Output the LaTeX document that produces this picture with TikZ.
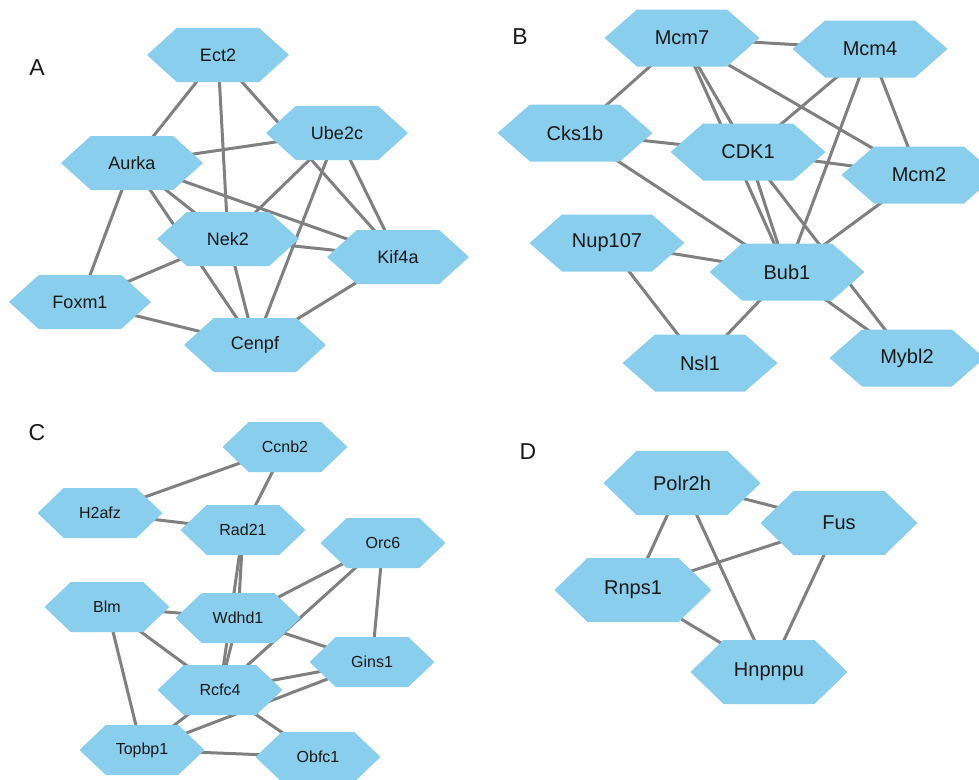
\documentclass[tikz,border=0pt]{standalone}
\usepackage{fontspec}
\setmainfont{Liberation Sans}
\usetikzlibrary{calc,backgrounds}

\definecolor{genefill}{RGB}{138,206,238}
\definecolor{genetext}{RGB}{25,25,25}
\definecolor{linkgray}{RGB}{128,128,128}

\tikzset{
  hexgene/.style={inner sep=0pt, text=genetext,
    path picture={
      \fill[genefill] (path picture bounding box.west)
        -- ($(path picture bounding box.north west)!0.21!(path picture bounding box.north east)$)
        -- ($(path picture bounding box.north west)!0.79!(path picture bounding box.north east)$)
        -- (path picture bounding box.east)
        -- ($(path picture bounding box.south west)!0.79!(path picture bounding box.south east)$)
        -- ($(path picture bounding box.south west)!0.21!(path picture bounding box.south east)$)
        -- cycle;}},
  geneA/.style={hexgene, minimum width=142pt, minimum height=54pt, font=\fontsize{18}{20}\selectfont},
  geneB/.style={hexgene, minimum width=155pt, minimum height=57pt, font=\fontsize{20}{22}\selectfont},
  geneC/.style={hexgene, minimum width=125pt, minimum height=50pt, font=\fontsize{16}{18}\selectfont},
  geneD/.style={hexgene, minimum width=157pt, minimum height=64pt, font=\fontsize{20}{22}\selectfont},
  panel/.style={text=genetext, font=\fontsize{23}{25}\selectfont},
  link/.style={draw=linkgray, line width=3pt}
}

\begin{document}
\begin{tikzpicture}[x=1pt,y=-1pt]

      \useasboundingbox (0,0) rectangle (979,779);

      % panel A
      \node[panel] (labA) at (37,68) {A};
      \node[geneA] (ect2) at (218,55) {Ect2};
      \node[geneA] (ube2c) at (337,133) {Ube2c};
      \node[geneA] (aurka) at (132,163) {Aurka};
      \node[geneA] (nek2) at (228,239) {Nek2};
      \node[geneA] (kif4a) at (398,257) {Kif4a};
      \node[geneA] (foxm1) at (80,302) {Foxm1};
      \node[geneA] (cenpf) at (255,345) {Cenpf};

      % panel B
      \node[panel] (labB) at (520,37) {B};
      \node[geneB] (mcm7) at (682,38) {Mcm7};
      \node[geneB] (mcm4) at (870,49) {Mcm4};
      \node[geneB] (cks1b) at (575,133) {Cks1b};
      \node[geneB] (cdk1) at (748,152) {CDK1};
      \node[geneB] (mcm2) at (919,175) {Mcm2};
      \node[geneB] (nup107) at (607,243) {Nup107};
      \node[geneB] (bub1) at (787,272) {Bub1};
      \node[geneB] (nsl1) at (700,363) {Nsl1};
      \node[geneB] (mybl2) at (907,358) {Mybl2};

      % panel C
      \node[panel] (labC) at (37,433) {C};
      \node[geneC] (ccnb2) at (285,447) {Ccnb2};
      \node[geneC] (h2afz) at (100,513) {H2afz};
      \node[geneC] (rad21) at (243,530) {Rad21};
      \node[geneC] (orc6) at (383,543) {Orc6};
      \node[geneC] (blm) at (107,607) {Blm};
      \node[geneC] (wdhd1) at (238,618) {Wdhd1};
      \node[geneC] (gins1) at (372,662) {Gins1};
      \node[geneC] (rcfc4) at (220,690) {Rcfc4};
      \node[geneC] (topbp1) at (142,750) {Topbp1};
      \node[geneC] (obfc1) at (318,757) {Obfc1};

      % panel D
      \node[panel] (labD) at (528,452) {D};
      \node[geneD] (polr2h) at (682,483) {Polr2h};
      \node[geneD] (fus) at (839,523) {Fus};
      \node[geneD] (rnps1) at (633,590) {Rnps1};
      \node[geneD] (hnpnpu) at (769,672) {Hnpnpu};

      \begin{scope}[on background layer]
        \foreach \a/\b in {ect2/aurka, ect2/nek2, ect2/kif4a, aurka/ube2c, aurka/nek2,
            aurka/kif4a, aurka/cenpf, aurka/foxm1, ube2c/nek2, ube2c/cenpf, ube2c/kif4a,
            nek2/kif4a, nek2/foxm1, nek2/cenpf, foxm1/cenpf, kif4a/cenpf} {
            \draw[link] (\a.center) -- (\b.center);
          }
        \foreach \a/\b in {mcm7/mcm4, mcm7/cks1b, mcm7/cdk1, mcm7/bub1, mcm7/mcm2,
            mcm4/cdk1, mcm4/bub1, mcm4/mcm2, cks1b/cdk1, cks1b/bub1, cdk1/mcm2,
            cdk1/bub1, cdk1/mybl2, mcm2/bub1, nup107/bub1, nup107/nsl1, bub1/nsl1,
            bub1/mybl2} {
            \draw[link] (\a.center) -- (\b.center);
          }
        \foreach \a/\b in {ccnb2/h2afz, ccnb2/rad21, h2afz/rad21, rad21/wdhd1, rad21/rcfc4,
            wdhd1/rcfc4, orc6/wdhd1, orc6/rcfc4, orc6/gins1, blm/wdhd1, blm/rcfc4,
            blm/topbp1, wdhd1/gins1, gins1/rcfc4, gins1/topbp1, rcfc4/topbp1,
            rcfc4/obfc1, topbp1/obfc1} {
            \draw[link] (\a.center) -- (\b.center);
          }
        \foreach \a/\b in {polr2h/fus, polr2h/rnps1, polr2h/hnpnpu, fus/rnps1,
            fus/hnpnpu, rnps1/hnpnpu} {
            \draw[link] (\a.center) -- (\b.center);
          }
      \end{scope}

    \end{tikzpicture}
\end{document}
